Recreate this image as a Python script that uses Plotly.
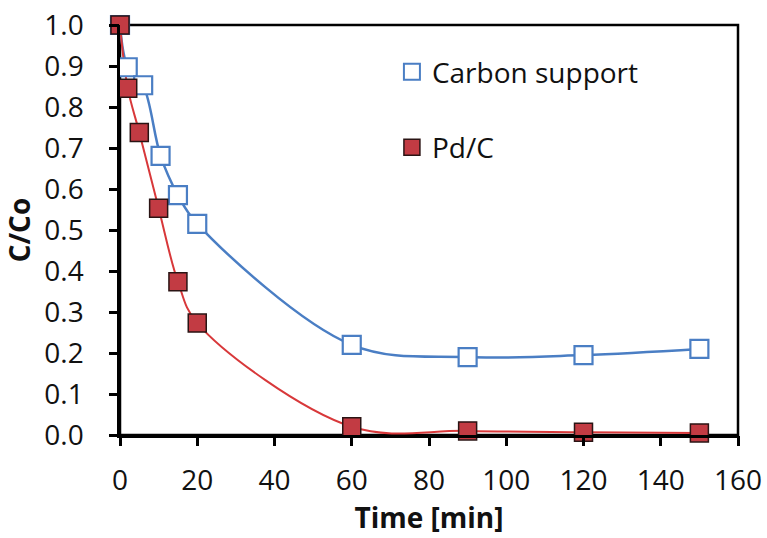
import plotly.graph_objects as go

# Data
carbon_time = [0, 2, 6, 10.5, 15, 20, 60, 90, 120, 150]
carbon_ratio = [1.0, 0.897, 0.853, 0.681, 0.585, 0.515, 0.22, 0.19, 0.195, 0.21]

pdc_time = [0, 2, 5, 10, 15, 20, 60, 90, 120, 150]
pdc_ratio = [1.0, 0.846, 0.738, 0.553, 0.374, 0.273, 0.02, 0.01, 0.007, 0.005]

x_ticks = [0, 20, 40, 60, 80, 100, 120, 140, 160]
y_ticks = [0.0, 0.1, 0.2, 0.3, 0.4, 0.5, 0.6, 0.7, 0.8, 0.9, 1.0]

BLUE = "#4A7EC4"
RED_LINE = "#D8383A"
RED_FILL = "#C23B43"
FONT = "Open Sans"
FS = 28
TXT = "#111111"

fig = go.Figure()

# smooth lines (clipped to plot area)
fig.add_trace(go.Scatter(x=carbon_time, y=carbon_ratio, mode="lines",
                         line=dict(color=BLUE, width=2.5, shape="spline", smoothing=1),
                         showlegend=False, hoverinfo="skip"))
fig.add_trace(go.Scatter(x=pdc_time, y=pdc_ratio, mode="lines",
                         line=dict(color=RED_LINE, width=2, shape="spline", smoothing=1),
                         showlegend=False, hoverinfo="skip"))

# markers (not clipped)
fig.add_trace(go.Scatter(x=carbon_time, y=carbon_ratio, mode="markers",
                         marker=dict(symbol="square", size=18, color="white",
                                     line=dict(color=BLUE, width=2.2)),
                         cliponaxis=False, showlegend=False))
fig.add_trace(go.Scatter(x=pdc_time, y=pdc_ratio, mode="markers",
                         marker=dict(symbol="square", size=18, color=RED_FILL,
                                     line=dict(color="#2a1414", width=1.5)),
                         cliponaxis=False, showlegend=False))

# legend entries (markers only, as in the reference); attached to the tick-mark axes
fig.add_trace(go.Scatter(x=[None], y=[None], mode="markers", name="Carbon support",
                         legendgroup="a", xaxis="x2", yaxis="y2",
                         marker=dict(symbol="square", size=16, color="white",
                                     line=dict(color=BLUE, width=2))))
fig.add_trace(go.Scatter(x=[None], y=[None], mode="markers", name="Pd/C",
                         legendgroup="b", xaxis="x2", yaxis="y2",
                         marker=dict(symbol="square", size=16, color=RED_FILL,
                                     line=dict(color="#2a1414", width=1.5))))

label_axis = dict(showline=True, linecolor="black", linewidth=2.5, mirror=False,
                  ticks="outside", tickwidth=2.5, tickcolor="rgba(0,0,0,0)",
                  showgrid=False, zeroline=False, automargin=False,
                  tickfont=dict(family=FONT, size=FS, color=TXT))
tick_axis = dict(showline=False, ticks="outside", ticklen=10, tickwidth=2.5,
                 tickcolor="black", showticklabels=False, showgrid=False,
                 zeroline=False, automargin=False)

fig.update_layout(
    width=767, height=538,
    margin=dict(l=120, r=29, t=25, b=103),
    paper_bgcolor="white", plot_bgcolor="rgba(0,0,0,0)",
    xaxis=dict(range=[0, 160], tickvals=x_ticks, ticklen=19,
               title=dict(text="<b>Time [min]</b>", font=dict(family=FONT, size=FS, color=TXT),
                          standoff=7),
               **label_axis),
    yaxis=dict(range=[0, 1.0], tickvals=y_ticks, tickformat=".1f", ticklen=28,
               title=dict(text="<b>C/Co</b>", font=dict(family=FONT, size=FS, color=TXT),
                          standoff=10),
               **label_axis),
    xaxis2=dict(range=[0, 160], tickvals=x_ticks, overlaying="x", anchor="y2",
                side="bottom", **tick_axis),
    yaxis2=dict(range=[0, 1.0], tickvals=y_ticks, overlaying="y", anchor="x2",
                side="left", **tick_axis),
    legend=dict(x=0.44, y=0.946, xanchor="left", yanchor="top",
                bgcolor="rgba(0,0,0,0)", traceorder="grouped", tracegroupgap=36,
                itemwidth=30,
                font=dict(family=FONT, size=FS, color=TXT)),
    shapes=[dict(type="rect", xref="paper", yref="paper", x0=0, x1=1, y0=0, y1=1,
                 line=dict(color="black", width=2.5), layer="below")],
)

fig.write_html("out.html", config={"displayModeBar": False},
               post_script="document.body.style.margin='0';document.body.style.overflow='hidden';")
